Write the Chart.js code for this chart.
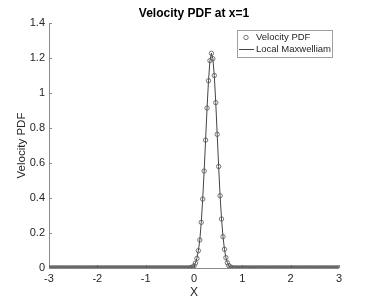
<!DOCTYPE html>
<html>
<head>
<meta charset="utf-8">
<script src="https://cdn.jsdelivr.net/npm/chart.js@4.4.0/dist/chart.umd.min.js"></script>
<style>
  html, body { margin: 0; padding: 0; background: #fff; }
  #wrap { width: 374px; height: 301px; }
</style>
</head>
<body>
<div id="wrap"><canvas id="pdfChart" width="374" height="301"></canvas></div>
<script>
// velocity grid (x axis of the plot)
const xs = [
  -3, -2.97, -2.94, -2.91, -2.88, -2.85, -2.82, -2.79, -2.76, -2.73,
  -2.7, -2.67, -2.64, -2.61, -2.58, -2.55, -2.52, -2.49, -2.46, -2.43,
  -2.4, -2.37, -2.34, -2.31, -2.28, -2.25, -2.22, -2.19, -2.16, -2.13,
  -2.1, -2.07, -2.04, -2.01, -1.98, -1.95, -1.92, -1.89, -1.86, -1.83,
  -1.8, -1.77, -1.74, -1.71, -1.68, -1.65, -1.62, -1.59, -1.56, -1.53,
  -1.5, -1.47, -1.44, -1.41, -1.38, -1.35, -1.32, -1.29, -1.26, -1.23,
  -1.2, -1.17, -1.14, -1.11, -1.08, -1.05, -1.02, -0.99, -0.96, -0.93,
  -0.9, -0.87, -0.84, -0.81, -0.78, -0.75, -0.72, -0.69, -0.66, -0.63,
  -0.6, -0.57, -0.54, -0.51, -0.48, -0.45, -0.42, -0.39, -0.36, -0.33,
  -0.3, -0.27, -0.24, -0.21, -0.18, -0.15, -0.12, -0.09, -0.06, -0.03,
  0, 0.03, 0.06, 0.09, 0.12, 0.15, 0.18, 0.21, 0.24, 0.27,
  0.3, 0.33, 0.36, 0.39, 0.42, 0.45, 0.48, 0.51, 0.54, 0.57,
  0.6, 0.63, 0.66, 0.69, 0.72, 0.75, 0.78, 0.81, 0.84, 0.87,
  0.9, 0.93, 0.96, 0.99, 1.02, 1.05, 1.08, 1.11, 1.14, 1.17,
  1.2, 1.23, 1.26, 1.29, 1.32, 1.35, 1.38, 1.41, 1.44, 1.47,
  1.5, 1.53, 1.56, 1.59, 1.62, 1.65, 1.68, 1.71, 1.74, 1.77,
  1.8, 1.83, 1.86, 1.89, 1.92, 1.95, 1.98, 2.01, 2.04, 2.07,
  2.1, 2.13, 2.16, 2.19, 2.22, 2.25, 2.28, 2.31, 2.34, 2.37,
  2.4, 2.43, 2.46, 2.49, 2.52, 2.55, 2.58, 2.61, 2.64, 2.67,
  2.7, 2.73, 2.76, 2.79, 2.82, 2.85, 2.88, 2.91, 2.94, 2.97,
  3
];

// sampled PDF (circles)
const velocityPdf = [
  0, 0, 0, 0, 0, 0, 0, 0, 0, 0,
  0, 0, 0, 0, 0, 0, 0, 0, 0, 0,
  0, 0, 0, 0, 0, 0, 0, 0, 0, 0,
  0, 0, 0, 0, 0, 0, 0, 0, 0, 0,
  0, 0, 0, 0, 0, 0, 0, 0, 0, 0,
  0, 0, 0, 0, 0, 0, 0, 0, 0, 0,
  0, 0, 0, 0, 0, 0, 0, 0, 0, 0,
  0, 0, 0, 0, 0, 0, 0, 0, 0, 0,
  0, 0, 0, 0, 0, 0, 0, 0, 0, 0,
  0, 0, 0, 0, 0, 0, 0, 0, 0.002, 0.005,
  0.012, 0.028, 0.055, 0.099, 0.16, 0.261, 0.394, 0.554, 0.731, 0.914,
  1.07, 1.185, 1.227, 1.196, 1.10, 0.945, 0.764, 0.58, 0.413, 0.28,
  0.179, 0.107, 0.059, 0.03, 0.014, 0.006, 0.002, 0, 0, 0,
  0, 0, 0, 0, 0, 0, 0, 0, 0, 0,
  0, 0, 0, 0, 0, 0, 0, 0, 0, 0,
  0, 0, 0, 0, 0, 0, 0, 0, 0, 0,
  0, 0, 0, 0, 0, 0, 0, 0, 0, 0,
  0, 0, 0, 0, 0, 0, 0, 0, 0, 0,
  0, 0, 0, 0, 0, 0, 0, 0, 0, 0,
  0, 0, 0, 0, 0, 0, 0, 0, 0, 0,
  0
];

// local Maxwellian (solid line)
const localMaxwellian = [
  0, 0, 0, 0, 0, 0, 0, 0, 0, 0,
  0, 0, 0, 0, 0, 0, 0, 0, 0, 0,
  0, 0, 0, 0, 0, 0, 0, 0, 0, 0,
  0, 0, 0, 0, 0, 0, 0, 0, 0, 0,
  0, 0, 0, 0, 0, 0, 0, 0, 0, 0,
  0, 0, 0, 0, 0, 0, 0, 0, 0, 0,
  0, 0, 0, 0, 0, 0, 0, 0, 0, 0,
  0, 0, 0, 0, 0, 0, 0, 0, 0, 0,
  0, 0, 0, 0, 0, 0, 0, 0, 0, 0,
  0, 0, 0, 0, 0, 0, 0, 0, 0.002, 0.005,
  0.012, 0.028, 0.055, 0.099, 0.16, 0.261, 0.394, 0.554, 0.731, 0.914,
  1.07, 1.185, 1.227, 1.196, 1.10, 0.945, 0.764, 0.58, 0.413, 0.28,
  0.179, 0.107, 0.059, 0.03, 0.014, 0.006, 0.002, 0, 0, 0,
  0, 0, 0, 0, 0, 0, 0, 0, 0, 0,
  0, 0, 0, 0, 0, 0, 0, 0, 0, 0,
  0, 0, 0, 0, 0, 0, 0, 0, 0, 0,
  0, 0, 0, 0, 0, 0, 0, 0, 0, 0,
  0, 0, 0, 0, 0, 0, 0, 0, 0, 0,
  0, 0, 0, 0, 0, 0, 0, 0, 0, 0,
  0, 0, 0, 0, 0, 0, 0, 0, 0, 0,
  0
];

const seriesNames = ['Velocity PDF', 'Local Maxwelliam'];
const titleText = 'Velocity PDF at x=1';
const xLabel = 'X';
const yLabel = 'Velocity PDF';

const FONT = '"Liberation Sans", Arial, Helvetica, sans-serif';
const AXIS = '#8a8a8a';
const TEXT = '#262626';

const toPts = ys => xs.map((x, i) => ({ x, y: ys[i] }));
const fmt = v => String(+Number(v).toFixed(1));

// MATLAB-like decorations: inward ticks, axis lines, labels, title, legend
const matlabDecor = {
  id: 'matlabDecor',
  beforeDatasetsDraw(chart) {
    const { ctx, chartArea: a, scales: { x, y } } = chart;
    ctx.save();
    ctx.strokeStyle = AXIS;
    ctx.lineWidth = 1;
    ctx.beginPath();
    ctx.moveTo(a.left + 0.5, a.top);
    ctx.lineTo(a.left + 0.5, a.bottom + 0.5);
    ctx.lineTo(a.right, a.bottom + 0.5);
    ctx.stroke();
    ctx.beginPath();
    y.ticks.forEach(t => {
      const py = Math.round(y.getPixelForValue(t.value)) + 0.5;
      ctx.moveTo(a.left, py);
      ctx.lineTo(a.left + 3, py);
    });
    x.ticks.forEach(t => {
      const px = Math.round(x.getPixelForValue(t.value)) + 0.5;
      ctx.moveTo(px, a.bottom);
      ctx.lineTo(px, a.bottom - 3);
    });
    ctx.stroke();
    ctx.restore();
  },
  afterDraw(chart) {
    const { ctx, chartArea: a } = chart;
    ctx.save();
    ctx.fillStyle = '#000';
    ctx.textAlign = 'center';
    ctx.textBaseline = 'middle';
    ctx.font = 'bold 12px ' + FONT;
    ctx.fillText(titleText, (a.left + a.right) / 2, 14);

    ctx.fillStyle = TEXT;
    ctx.font = '12px ' + FONT;
    ctx.fillText(xLabel, (a.left + a.right) / 2, 293);
    ctx.font = '11.5px ' + FONT;
    ctx.translate(22, (a.top + a.bottom) / 2);
    ctx.rotate(-Math.PI / 2);
    ctx.fillText(yLabel, 0, 0);
    ctx.restore();

    // legend box
    const lx = 237, ly = 30, lw = 95, lh = 27;
    ctx.save();
    ctx.fillStyle = '#fff';
    ctx.fillRect(lx, ly, lw, lh);
    ctx.strokeStyle = '#a0a0a0';
    ctx.lineWidth = 1;
    ctx.strokeRect(lx + 0.5, ly + 0.5, lw, lh);
    ctx.strokeStyle = '#555';
    ctx.lineWidth = 0.8;
    ctx.beginPath();
    ctx.arc(lx + 9, ly + 7.5, 2.2, 0, Math.PI * 2);
    ctx.stroke();
    ctx.strokeStyle = '#444';
    ctx.lineWidth = 1;
    ctx.beginPath();
    ctx.moveTo(lx + 2, ly + 19.5);
    ctx.lineTo(lx + 17, ly + 19.5);
    ctx.stroke();
    ctx.fillStyle = TEXT;
    ctx.font = '9.5px ' + FONT;
    ctx.textAlign = 'left';
    ctx.textBaseline = 'middle';
    ctx.fillText(seriesNames[0], lx + 19, ly + 7.5);
    ctx.fillText(seriesNames[1], lx + 19, ly + 19.5);
    ctx.restore();
  }
};

new Chart(document.getElementById('pdfChart').getContext('2d'), {
  type: 'scatter',
  data: {
    datasets: [
      {
        label: seriesNames[0],
        data: toPts(velocityPdf),
        showLine: false,
        pointStyle: 'circle',
        pointRadius: 2.2,
        pointBorderWidth: 0.8,
        pointBorderColor: '#555',
        pointBackgroundColor: 'rgba(0,0,0,0)',
        order: 1
      },
      {
        label: seriesNames[1],
        data: toPts(localMaxwellian),
        showLine: true,
        borderColor: '#444',
        borderWidth: 1,
        pointRadius: 0,
        tension: 0,
        order: 2
      }
    ]
  },
  options: {
    responsive: false,
    animation: false,
    layout: { padding: { top: 23, right: 35, left: 0, bottom: 0 } },
    plugins: { legend: { display: false }, title: { display: false }, tooltip: { enabled: false } },
    scales: {
      x: {
        type: 'linear',
        min: -3, max: 3,
        afterFit: s => { s.height = 33; },
        border: { display: false },
        grid: { display: false, drawTicks: false },
        ticks: { stepSize: 1, maxRotation: 0, padding: 4, color: TEXT, font: { family: FONT, size: 11 }, callback: fmt }
      },
      y: {
        min: 0, max: 1.4,
        afterFit: s => { s.width = 49; },
        border: { display: false },
        grid: { display: false, drawTicks: false },
        ticks: { stepSize: 0.2, padding: 4, color: TEXT, font: { family: FONT, size: 11 }, callback: fmt }
      }
    }
  },
  plugins: [matlabDecor]
});
</script>
</body>
</html>
